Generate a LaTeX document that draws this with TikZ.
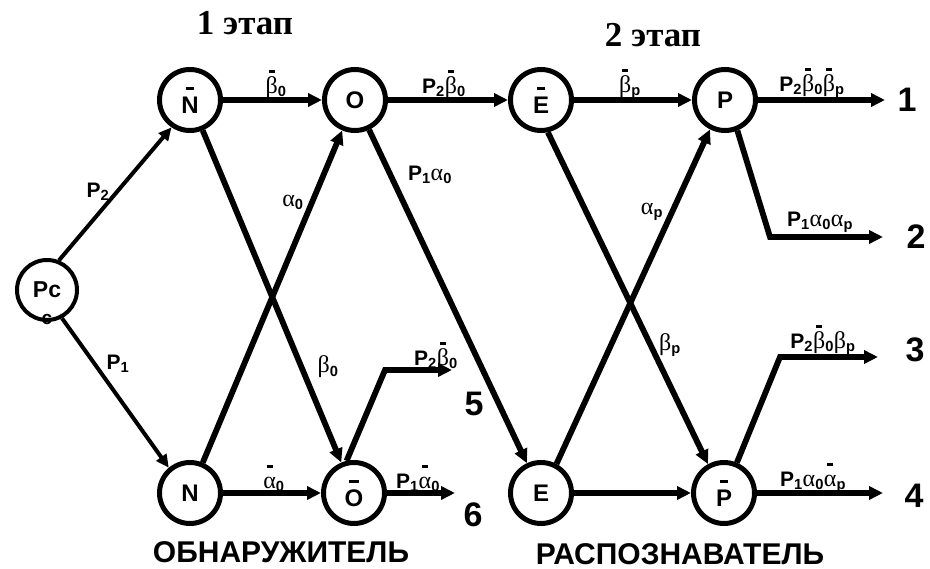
\documentclass[tikz,border=0pt]{standalone}
\usepackage{fontspec}
\setmainfont{Liberation Sans}
\newfontfamily\serifgr{Liberation Serif}
\usetikzlibrary{arrows.meta}

% Greek letters in a serif face, subscripts, thick overbars
\newcommand\gk[1]{{\serifgr\mdseries\fontsize{24}{24}\selectfont #1}}
\newcommand\lo[1]{\textsubscript{#1}}
\newcommand\ovl[1]{\leavevmode{\setbox0\hbox{#1}\vbox{\hbox to\wd0{\hss\vrule width .5\wd0 height 3pt depth 0pt\hss}\kern-0.6pt\box0}}}

\begin{document}
\begin{tikzpicture}[x=1pt,y=-1pt,
  state/.style={circle, draw, line width=5pt, minimum size=61pt, inner sep=0pt,
                font=\bfseries\fontsize{24}{24}\selectfont},
  src/.style={circle, draw, line width=4pt, minimum size=60pt, inner sep=0pt,
                font=\bfseries\fontsize{23}{23}\selectfont},
  flow/.style={line width=5.8pt, -{Triangle[length=14pt,width=13pt]}},
  thinflow/.style={line width=4pt, -{Triangle[length=13pt,width=12pt]}},
  lab/.style={inner sep=0pt, font=\bfseries\fontsize{21}{21}\selectfont},
  num/.style={inner sep=0pt, font=\bfseries\fontsize{34}{34}\selectfont},
  title/.style={inner sep=0pt, font=\serifgr\bfseries\fontsize{35}{35}\selectfont},
  caption/.style={inner sep=0pt, font=\bfseries\fontsize{30}{30}\selectfont}]
\useasboundingbox (0,0) rectangle (930,569);

% stage titles and block captions
\node[title] (t1) at (245,23) {1 этап};
\node[title] (t2) at (653,35) {2 этап};
\node[caption] (c1) at (281,552) {ОБНАРУЖИТЕЛЬ};
\node[caption] (c2) at (680,554) {РАСПОЗНАВАТЕЛЬ};

% states
\node[src] (Pc) at (47,290) {Pc};
\node[lab, font=\bfseries\fontsize{19}{19}\selectfont] (Pcc) at (47,319) {c};
\node[state] (Nt) at (190,100) {\ovl{N}};
\node[state] (Ot) at (355,100) {O};
\node[state] (Et) at (541,100) {\ovl{E}};
\node[state] (Pt) at (725,100) {P};
\node[state] (Nb) at (190,493) {N};
\node[state] (Ob) at (354,493) {\ovl{O}};
\node[state] (Eb) at (541,493) {E};
\node[state] (Pb) at (724,493) {\ovl{P}};

% edge labels
\node[lab] (lP2) at (98,192) {P\lo{2}};
\node[lab] (lP1) at (118,364) {P\lo{1}};
\node[lab] (lb0) at (276,84) {\ovl{\gk{β}}\lo{0}};
\node[lab] (lP2b0) at (444,84) {P\lo{2}\ovl{\gk{β}}\lo{0}};
\node[lab] (lbp) at (630,84) {\ovl{\gk{β}}\lo{p}};
\node[lab] (lo1) at (812,83) {P\lo{2}\ovl{\gk{β}}\lo{0}\ovl{\gk{β}}\lo{p}};
\node[lab] (lP1a0) at (430,175) {P\lo{1}\gk{α}\lo{0}};
\node[lab] (la0) at (293,202) {\gk{α}\lo{0}};
\node[lab] (lbe0) at (328,367) {\gk{β}\lo{0}};
\node[lab] (lap) at (652,212) {\gk{α}\lo{p}};
\node[lab] (lbep) at (670,345) {\gk{β}\lo{p}};
\node[lab] (lo2) at (820,222) {P\lo{1}\gk{α}\lo{0}\gk{α}\lo{p}};
\node[lab] (lo3) at (823,340) {P\lo{2}\ovl{\gk{β}}\lo{0}\gk{β}\lo{p}};
\node[lab] (lo5) at (436,356) {P\lo{2}\ovl{\gk{β}}\lo{0}};
\node[lab] (lna0) at (274,478) {\ovl{\gk{α}}\lo{0}};
\node[lab] (lo6) at (418,478) {P\lo{1}\ovl{\gk{α}}\lo{0}};
\node[lab] (lo4) at (813,478) {P\lo{1}\gk{α}\lo{0}\ovl{\gk{α}}\lo{p}};

% outcome numbers
\node[num] (n1) at (907,100) {1};
\node[num] (n2) at (916,237) {2};
\node[num] (n3) at (915,350) {3};
\node[num] (n4) at (914,496) {4};
\node[num] (n5) at (474,404) {5};
\node[num] (n6) at (473,515) {6};

% free ends and corners of the output lines
\coordinate (e1) at (885,100);
\coordinate (k2) at (770,237);
\coordinate (e2) at (883,237);
\coordinate (k3) at (780,357);
\coordinate (e3) at (878,357);
\coordinate (e4) at (883,493);
\coordinate (k5) at (385,370);
\coordinate (e5) at (452,370);
\coordinate (e6) at (455,493);

% source branches
\draw[thinflow] (Pc.68) -- (Nt.-124);
\draw[thinflow] (Pc.-62) -- (Nb.130);

% detector stage
\draw[flow] (Nt) -- (Ot);
\draw[flow] (Nb) -- (Ob);
\draw[flow] (Nt) -- (Ob);
\draw[flow] (Nb) -- (Ot);
\draw[flow] (Ot) -- (Eb);
\draw[flow] (Ot) -- (Et);
\draw[flow] (Ob.103) -- (k5) -- (e5);
\draw[flow] (Ob) -- (e6);

% recognizer stage
\draw[flow] (Et) -- (Pt);
\draw[flow] (Eb) -- (Pb);
\draw[flow] (Et.-78) -- (Pb.119);
\draw[flow] (Eb.62) -- (Pt.-117);
\draw[flow] (Pt) -- (e1);
\draw[flow] (Pt.-68) -- (k2) -- (e2);
\draw[flow] (Pb.67) -- (k3) -- (e3);
\draw[flow] (Pb) -- (e4);
\end{tikzpicture}
\end{document}
